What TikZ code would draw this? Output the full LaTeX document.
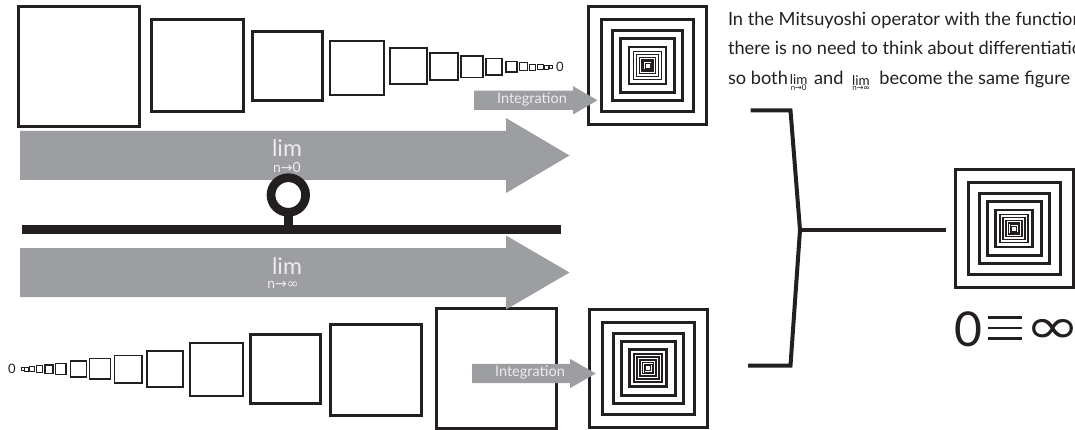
\documentclass[tikz,border=0pt]{standalone}
\usepackage{fontspec}
\setmainfont{Lato}
\setsansfont{Lato}
\newfontfamily\symfont{DejaVu Sans}
\definecolor{ink}{HTML}{231F20}
\definecolor{band}{HTML}{9D9EA1}
\definecolor{pale}{HTML}{ECECEC}
\newcommand{\fs}[1]{\fontsize{#1}{#1}\selectfont}
% open square: x0 y0 x1 y1 width
\newcommand{\sq}[5]{\draw[ink,line width=#5pt,miter limit=10] (#1,#2) rectangle (#3,#4);}
% nested target centred on #1,#2
\newcommand{\nest}[2]{%
  \begin{scope}[shift={(#1,#2)}]
  \foreach \h/\w in {59/3,46/3,35/3,27/3,18.5/2.4,14/1.6,11/1.4,8/1.3,5.5/1.2,4/1,2.5/.9}{
    \draw[ink,line width=\w pt] (-\h,-\h) rectangle (\h,\h);}
  \end{scope}}
% block arrow: x0 xhead xtip ycentre bodyhalf headhalf
\newcommand{\blockarrow}[6]{\fill[band] (#1,#4-#5) -- (#2,#4-#5) -- (#2,#4-#6) -- (#3,#4) -- (#2,#4+#6) -- (#2,#4+#5) -- (#1,#4+#5) -- cycle;}
\newcommand{\limst}[1]{\raisebox{-6.5pt}{\shortstack[c]{\fs{13.5}lim\\[-2pt]\fs{8}n{\symfont→}#1}}}
\tikzset{
  lbl/.style={inner sep=0pt,outer sep=0pt},
  arrowtext/.style={lbl,text=pale},
  para/.style={lbl,anchor=base west,text=ink,font=\fs{18.2}},
}
\begin{document}
\begin{tikzpicture}[x=1pt,y=-1pt]
\useasboundingbox (0,0) rectangle (1075,430);
\clip (0,0) rectangle (1075,430);
% top row
\sq{18}{7}{139}{127}{3}
\sq{151}{20}{243}{112}{3}
\sq{252}{32}{322}{101}{3}
\sq{330}{41}{384}{95}{2.6}
\sq{389.5}{48.5}{427}{84.5}{2}
\sq{430}{53}{458}{80}{1.6}
\sq{461}{56}{483}{77.5}{1.2}
\sq{486}{58.5}{502}{75}{1.1}
\sq{506}{61.5}{517}{72}{1.1}
\sq{519.5}{62.5}{527.5}{70.5}{1.1}
\sq{529.5}{64}{535.5}{70}{.9}
\sq{537.5}{64.5}{543}{69.5}{.9}
\sq{544.5}{65}{548.5}{69}{.8}
\sq{549.5}{65.5}{552}{68.5}{.8}
\node[lbl,text=ink,font=\fs{13}] (zeroA) at (560,67) {0};
% bottom row
\sq{21}{367.5}{24}{370.5}{.8}
\sq{24.5}{367}{28}{371}{.8}
\sq{29}{366.5}{34.5}{371.5}{.9}
\sq{36.5}{365.5}{42.5}{372.5}{.9}
\sq{45}{365}{53}{373.5}{1.1}
\sq{55.5}{363.5}{66}{374.5}{1.1}
\sq{70.5}{361}{86.5}{377}{1.2}
\sq{89.5}{358.5}{110.5}{379}{1.2}
\sq{114.5}{355.5}{142}{383}{1.6}
\sq{146.5}{351}{182.5}{387}{2}
\sq{190}{343}{243}{396}{2.6}
\sq{250.5}{334}{320.5}{403}{3}
\sq{330}{324}{421}{415}{3}
\sq{436}{308.5}{556.5}{428}{3}
\node[lbl,text=ink,font=\fs{13}] (zeroB) at (12,369) {0};
% targets
\nest{647.5}{65.5}
\nest{648}{368}
\nest{1014}{228.5}
% big arrows
\blockarrow{20}{506}{569.5}{155.5}{24.5}{37.5}
\blockarrow{20}{506}{569.5}{272.5}{24.5}{37}
\node[arrowtext,font=\fs{23}] (limA) at (287,148) {lim};
\node[arrowtext,font=\fs{14}] (subA) at (287,167) {n{\symfont→}0};
\node[arrowtext,font=\fs{23}] (limB) at (287,266) {lim};
\node[arrowtext,font=\fs{14}] (subB) at (283,285) {n{\symfont→∞}};
% bar and ring
\fill[ink] (22,225.3) rectangle (561,234);
\fill[ink] (284,212) rectangle (292.7,226);
\draw[ink,line width=8.7pt] (288.3,195) circle (17.3);
% small arrows
\blockarrow{474}{573}{597.5}{100.3}{9.7}{14.2}
\blockarrow{472}{570}{595.7}{373.5}{9.7}{14.7}
\node[arrowtext,font=\fs{14.5}] (intA) at (532,100) {Integration};
\node[arrowtext,font=\fs{14.5}] (intB) at (530,373) {Integration};
% bracket
\coordinate (brT) at (750.5,110.5);
\coordinate (brB) at (748,365.5);
\coordinate (brM) at (800,230);
\coordinate (brE) at (945.5,230);
\draw[ink,line width=4pt,miter limit=10] (brT) -- (790.5,110.5) -- (brM) -- (790.5,365.5) -- (brB);
\draw[ink,line width=4.5pt] (brM) -- (brE);
% paragraph
\node[para] (p1) at (728,26) {In the Mitsuyoshi operator with the function};
\node[para] (p2) at (728,55) {there is no need to think about differentiation};
\node[para] (p3) at (728,84.5) {so both\hspace{2pt}\limst{0}\hspace{2pt} and\hspace{4pt} \limst{∞}\hspace{5pt} become the same figure};
% identity
\node[lbl,text=ink,font=\fs{48}] (zz) at (968,329) {0};
\draw[ink,line width=2.2pt] (988,317.5) -- (1022,317.5) (988,328) -- (1022,328) (988,338.5) -- (1022,338.5);
\node[lbl,text=ink,font=\symfont\fs{66},yscale=.75] (inf) at (1053,331) {∞};
\end{tikzpicture}
\end{document}
